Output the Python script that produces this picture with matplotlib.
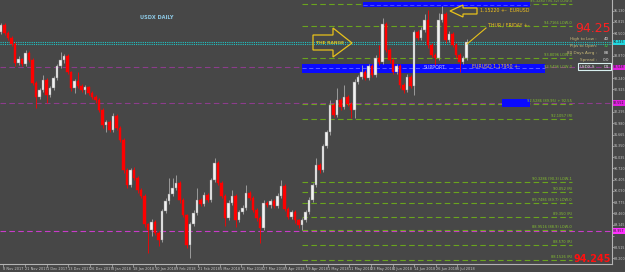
import matplotlib
matplotlib.use("Agg")
import matplotlib.pyplot as plt
from matplotlib.ticker import MultipleLocator, FuncFormatter
from matplotlib.patches import Polygon, Rectangle
import matplotlib.transforms as mtransforms

# ---------------- data ----------------
first_open = 94.53
closes = [94.73, 94.51, 94.37, 94.20, 93.67, 93.78, 93.64, 93.95, 93.75, 93.11,
          92.71, 92.91, 93.19, 92.77, 92.97, 93.25, 93.58, 93.75, 93.86, 93.41,
          92.97, 93.16, 93.02, 92.91, 92.99, 92.83, 92.71, 92.63, 92.35, 91.93,
          92.01, 91.79, 92.18, 91.85, 91.51, 90.67, 90.25, 90.67, 90.45, 90.11,
          89.94, 89.16, 88.99, 89.21, 88.91, 88.71, 89.52, 89.80, 90.00, 90.17,
          90.31, 89.83, 89.41, 88.57, 89.16, 89.47, 89.83, 89.72, 89.97, 89.83,
          90.39, 90.87, 90.31, 89.94, 89.33, 89.75, 89.94, 89.27, 89.49, 89.61,
          90.03, 89.89, 89.55, 89.33, 89.05, 89.75, 89.69, 89.80, 89.66, 89.94,
          90.22, 89.58, 89.35, 89.49, 89.27, 89.13, 89.27, 89.49, 89.83, 90.25,
          90.81, 90.67, 91.34, 91.73, 92.49, 92.21, 92.63, 92.43, 92.71, 92.52,
          92.35, 93.13, 93.27, 93.41, 93.25, 93.58, 93.33, 93.81, 93.69, 94.76,
          94.03, 93.75, 93.41, 93.58, 93.05, 92.91, 93.27, 93.02, 94.53, 94.37,
          94.59, 94.87, 94.17, 93.89, 93.81, 94.87, 95.04, 94.31, 94.48, 94.17,
          93.89, 93.69, 93.81, 94.25]
upper_wicks = [0.05, 0.06, 0.04, 0.06, 0.05, 0.07, 0.04, 0.08, 0.05, 0.06,
               0.04, 0.06, 0.14, 0.05, 0.06, 0.05, 0.07, 0.22, 0.06, 0.05,
               0.04, 0.06, 0.25, 0.05, 0.06, 0.04, 0.05, 0.06, 0.05, 0.07,
               0.06, 0.05, 0.08, 0.06, 0.05, 0.07, 0.05, 0.06, 0.08, 0.05,
               0.06, 0.05, 0.04, 0.08, 0.05, 0.06, 0.07, 0.08, 0.45, 0.28,
               0.22, 0.06, 0.05, 0.04, 0.06, 0.07, 0.34, 0.05, 0.08, 0.06,
               0.07, 0.14, 0.05, 0.06, 0.05, 0.08, 0.17, 0.05, 0.06, 0.07,
               0.22, 0.05, 0.06, 0.05, 0.04, 0.08, 0.06, 0.07, 0.05, 0.08,
               0.17, 0.05, 0.06, 0.07, 0.05, 0.04, 0.06, 0.07, 0.08, 0.06,
               0.20, 0.05, 0.07, 0.06, 0.14, 0.05, 0.34, 0.06, 0.34, 0.05,
               0.06, 0.08, 0.07, 0.20, 0.05, 0.07, 0.05, 0.08, 0.36, 0.17,
               0.05, 0.06, 0.05, 0.07, 0.05, 0.06, 0.08, 0.05, 0.07, 0.06,
               0.08, 0.17, 0.28, 0.05, 0.06, 0.20, 0.22, 0.05, 0.07, 0.06,
               0.05, 0.06, 0.05, 0.08]
lower_wicks = [0.06, 0.05, 0.07, 0.05, 0.08, 0.06, 0.07, 0.05, 0.06, 0.07,
               0.31, 0.06, 0.05, 0.22, 0.06, 0.05, 0.06, 0.05, 0.07, 0.06,
               0.08, 0.14, 0.05, 0.06, 0.10, 0.05, 0.06, 0.07, 0.06, 0.08,
               0.20, 0.06, 0.05, 0.07, 0.06, 0.08, 0.07, 0.06, 0.05, 0.07,
               0.06, 0.08, 0.64, 0.17, 0.06, 0.17, 0.06, 0.05, 0.07, 0.06,
               0.05, 0.07, 0.06, 0.08, 0.36, 0.06, 0.05, 0.07, 0.06, 0.05,
               0.06, 0.05, 0.07, 0.06, 0.22, 0.06, 0.05, 0.20, 0.06, 0.05,
               0.06, 0.07, 0.05, 0.08, 0.42, 0.06, 0.05, 0.07, 0.06, 0.05,
               0.06, 0.07, 0.06, 0.05, 0.07, 0.08, 0.14, 0.06, 0.05, 0.06,
               0.05, 0.07, 0.06, 0.05, 0.07, 0.06, 0.05, 0.07, 0.06, 0.05,
               0.22, 0.22, 0.06, 0.05, 0.07, 0.06, 0.05, 0.06, 0.07, 0.05,
               0.06, 0.07, 0.05, 0.06, 0.08, 0.07, 0.06, 0.05, 0.25, 0.06,
               0.05, 0.06, 0.07, 0.06, 0.20, 0.05, 0.06, 0.07, 0.05, 0.06,
               0.07, 0.28, 0.06, 0.05]

date_tick_pos = [0.6, 6.9, 13.1, 19.1, 25.4, 31.7, 37.7, 44.0, 50.0, 56.3, 62.6,
                 68.6, 74.9, 81.1, 87.1, 93.4, 99.4, 105.7, 112.0, 118.0, 124.3, 130.3]
date_labels = ["8 Nov 2017", "21 Nov 2017", "1 Dec 2017", "13 Dec 2017", "26 Dec 2017",
               "8 Jan 2018", "18 Jan 2018", "30 Jan 2018", "9 Feb 2018", "21 Feb 2018",
               "5 Mar 2018", "15 Mar 2018", "27 Mar 2018", "9 Apr 2018", "19 Apr 2018",
               "1 May 2018", "11 May 2018", "23 May 2018", "4 Jun 2018", "14 Jun 2018",
               "26 Jun 2018", "6 Jul 2018"]

cyan_levels = [94.25, 94.19]
purple_levels = [93.55, 92.55]
magenta_level = 88.96
green_levels = [95.32, 94.70, 93.81, 92.52, 92.10, 90.33, 90.05, 89.75, 89.35, 88.99, 88.57, 88.15]
green_labels = ["95.3280 (95.32) LOW-0", "94.7166 LOW-0", "93.8096 LOW-0",
                "92.5286 (89.95) + 92.55", "92.1057 (R)",
                "90.3286 (90.3) LOW-1", "90.052 (R)", "89.7486 (89.7) LOW-0",
                "89.350 (R)", "88.9516 (88.9) LOW-0", "88.570 (R)", "88.1526 (R)"]
band_label = "93.5496 LOW-0"
top_band = (95.23, 95.37)
support_band = (93.39, 93.64)
small_band = (92.43, 92.66)
ymin_price, ymax_price = 88.04, 95.43

# ---------------- figure ----------------
BG = "#474747"
W, H = 625, 272
fig = plt.figure(figsize=(W / 100, H / 100), dpi=100, facecolor=BG)
plot_w, plot_h = 612, 264
ax = fig.add_axes([0, (H - plot_h) / H, plot_w / W, plot_h / H], facecolor=BG)
ax.set_ylim(ymin_price, ymax_price)
ax.set_xlim(-0.29, (plot_w - 1) / 3.5)

def af(px, py):
    return (px / plot_w, 1 - py / plot_h)

blend = mtransforms.blended_transform_factory(ax.transAxes, ax.transData)

# horizontal reference lines
for lv in cyan_levels:
    ax.axhline(lv, color="#1fc4c4", lw=0.8, ls=(0, (1, 1)), zorder=1)
for lv in purple_levels:
    ax.axhline(lv, color="#8c3c8c", lw=0.8, ls=(0, (5, 3)), zorder=1)
ax.axhline(magenta_level, color="#c83cc8", lw=0.8, ls=(0, (5, 3)), zorder=1)

gx0, gx1 = 302 / plot_w, 572 / plot_w
for lv, lab in zip(green_levels, green_labels):
    ax.axhline(lv, xmin=gx0, xmax=gx1, color="#6aa41e", lw=0.8, ls=(0, (5, 3)), zorder=2)
    ax.text(gx1, lv + 0.03, lab, transform=blend, ha="right", va="bottom",
            fontsize=2.6, color="#84c030", zorder=5)

# blue bands
ax.axhspan(*top_band, xmin=363 / plot_w, xmax=530 / plot_w, color="#0a0aff", zorder=3, lw=0)
ax.axhline(sum(top_band) / 2, xmin=363 / plot_w, xmax=530 / plot_w, color="#5a5aff",
           lw=0.6, ls=(0, (5, 3)), zorder=3)
ax.axhspan(*support_band, xmin=gx0, xmax=545 / plot_w, color="#0a0aff", zorder=3, lw=0)
ax.axhline(sum(support_band) / 2, xmin=gx0, xmax=545 / plot_w, color="#6a6aff",
           lw=0.6, ls=(0, (5, 3)), zorder=3)
ax.text(gx1, support_band[1] - 0.13, band_label, transform=blend, ha="right", va="bottom",
        fontsize=2.6, color="#84c030", zorder=5)
ax.axhspan(*small_band, xmin=502 / plot_w, xmax=530 / plot_w, color="#0a0aff", zorder=3, lw=0)

# candles
opens = [first_open] + closes[:-1]
for i, (o, c, uw, lw_) in enumerate(zip(opens, closes, upper_wicks, lower_wicks)):
    hi = max(o, c) + uw
    lo = min(o, c) - lw_
    bull = c >= o
    body_col = "#f2f2f2" if bull else "#ff0000"
    wick_col = "#a8a8a8" if bull else "#ff0000"
    ax.vlines(i, lo, hi, color=wick_col, lw=0.6, zorder=4)
    h = abs(c - o) if abs(c - o) > 0.02 else 0.02
    ax.bar(i, h, bottom=min(o, c), width=0.62, color=body_col,
           edgecolor="#8a8a8a" if bull else "#ff0000", lw=0.3, zorder=4)

# annotations
yel = "#e8c21a"
arrow1 = [af(313, 35), af(333, 35), af(333, 28), af(352, 43), af(333, 57), af(333, 50), af(313, 50)]
ax.add_patch(Polygon(arrow1, closed=True, fill=False, ec=yel, lw=0.9, transform=ax.transAxes, zorder=6))
ax.text(*af(330, 43), "THE RANGE", transform=ax.transAxes, ha="center", va="center",
        fontsize=3.2, color="#d8c020", fontweight="bold", zorder=6)
arrow2 = [af(450, 11), af(463, 5), af(463, 8), af(477, 8), af(477, 14), af(463, 14), af(463, 17)]
ax.add_patch(Polygon(arrow2, closed=True, fill=False, ec=yel, lw=0.9, transform=ax.transAxes, zorder=6))
ax.text(*af(480, 11), "1.15220 +-  EURUSD", transform=ax.transAxes, ha="left", va="center",
        fontsize=3.4, color="#f0c020", zorder=6)
ax.text(*af(488, 25), "THUR / FRIDAY +-", transform=ax.transAxes, ha="left", va="center",
        fontsize=3.4, color="#f0c020", zorder=6)
ax.plot([af(467, 44)[0], af(486, 28)[0]], [af(467, 44)[1], af(486, 28)[1]],
        transform=ax.transAxes, color=yel, lw=0.8, zorder=6)
ax.text(*af(435, 67.5), "SUPPORT", transform=ax.transAxes, ha="center", va="center",
        fontsize=3.4, color="#b4b4ff", zorder=6)
ax.text(*af(472, 66.5), "EURUSD 1.17950 +-", transform=ax.transAxes, ha="left", va="center",
        fontsize=3.4, color="#f0c020", zorder=6)
ax.text(*af(140, 18), "USDX DAILY", transform=ax.transAxes, ha="left", va="center",
        fontsize=3.6, color="#8ecae6", fontweight="bold", zorder=6)

# info panel
ax.text(*af(611, 28), "94.25", transform=ax.transAxes, ha="right", va="center",
        fontsize=9, color="#ff2020", zorder=7)
info_rows = [("High to Low :", "40", "#e0e0e0"), ("Pips to Open:", "32", "#40c040"),
             ("80 Days Avrg :", "88", "#e0e0e0"), ("Spread :", "0.0", "#e0e0e0")]
for k, (lab, val, vc) in enumerate(info_rows):
    yy = 39 + k * 7
    ax.text(*af(597, yy), lab, transform=ax.transAxes, ha="right", va="center",
            fontsize=3.0, color="#c8b878", zorder=7)
    ax.text(*af(609, yy), val, transform=ax.transAxes, ha="right", va="center",
            fontsize=3.0, color=vc, zorder=7)
ax.add_patch(Rectangle(af(578, 70), 33 / plot_w, 7 / plot_h, transform=ax.transAxes,
                       fill=False, ec="#d8f0f0", lw=0.8, zorder=7))
ax.text(*af(580, 66.5), "USDX-S", transform=ax.transAxes, ha="left", va="center",
        fontsize=3.0, color="#e0e0e0", zorder=7)
ax.text(*af(609, 66.5), "D1", transform=ax.transAxes, ha="right", va="center",
        fontsize=3.0, color="#e0e0e0", zorder=7)
ax.text(*af(611, 259), "94.245", transform=ax.transAxes, ha="right", va="center",
        fontsize=7, color="#ff1010", fontweight="bold", zorder=7)

# price tags on the right axis
tags = [(cyan_levels[0], "94.245", "#20d8e0"), (purple_levels[0], "93.548", "#e020e0"),
        (purple_levels[1], "92.551", "#e020e0"), (magenta_level, "88.957", "#ff30ff")]

def price_fmt(v, pos):
    for lv, _, _ in tags:
        if abs(v - lv) < 0.17:
            return ""
    return "%.3f" % v

# axes styling
for s in ["top", "left"]:
    ax.spines[s].set_visible(False)
for s in ["right", "bottom"]:
    ax.spines[s].set_color("#b4b4b4")
    ax.spines[s].set_linewidth(0.8)
ax.yaxis.tick_right()
ax.yaxis.set_major_locator(MultipleLocator(0.315))
ax.yaxis.set_major_formatter(FuncFormatter(price_fmt))
ax.tick_params(axis="y", colors="#b4b4b4", labelsize=2.3, length=1.2, width=0.5, pad=0.4,
               labelcolor="#c8c8c8")
ax.set_xticks(date_tick_pos)
ax.set_xticklabels(date_labels)
ax.tick_params(axis="x", colors="#b4b4b4", labelsize=2.5, length=2, width=0.5, pad=0.2,
               labelcolor="#c8c8c8")
for t in ax.get_xticklabels():
    t.set_ha("left")

for lv, txt, col in tags:
    ax.text(1.002, lv, txt, transform=blend, ha="left", va="center", fontsize=2.3,
            color="#202020", zorder=8, clip_on=False,
            bbox=dict(boxstyle="square,pad=0.2", fc=col, ec=col, lw=0))

fig.savefig("out.png", dpi=100, facecolor=BG)
